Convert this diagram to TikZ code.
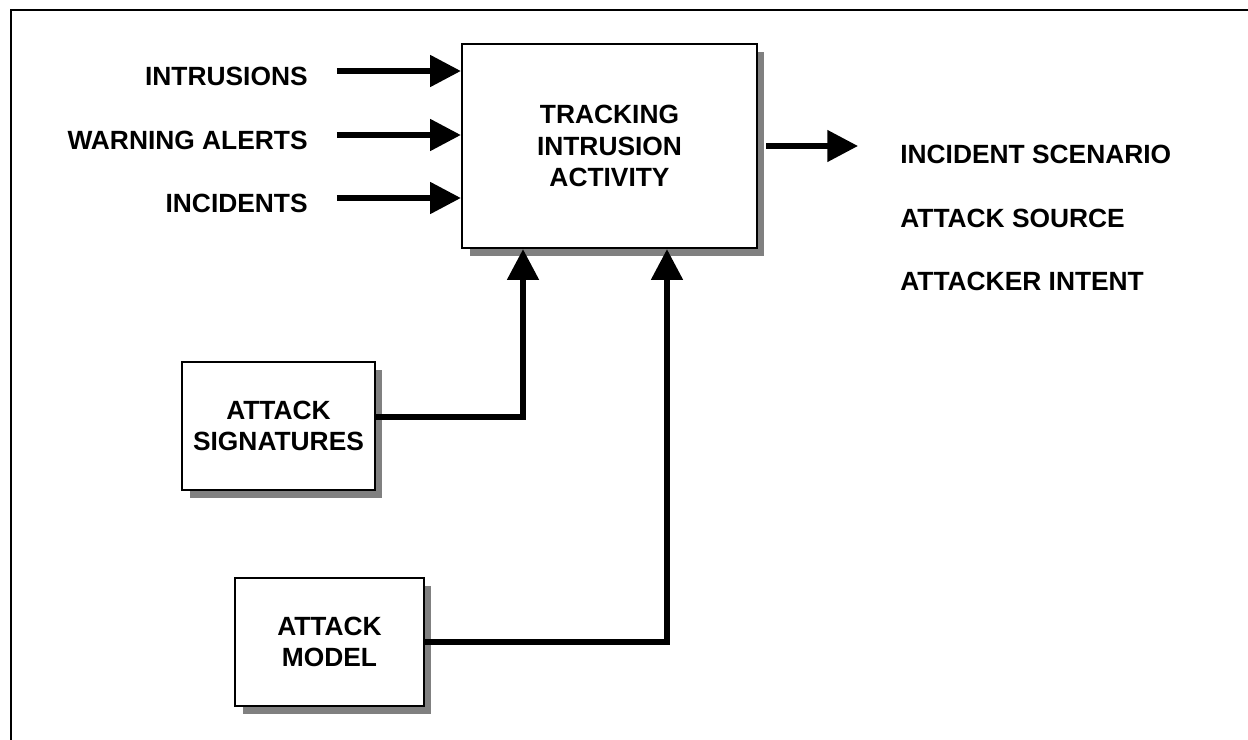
\documentclass[tikz,border=0pt]{standalone}
\usepackage{fontspec}
\setmainfont{Liberation Sans}
\usetikzlibrary{positioning,calc,arrows.meta,shadows}
\tikzset{
	blok/.style={draw,line width=1.3pt,fill=white,align=center,inner sep=0pt,
		drop shadow={shadow xshift=0.15cm,shadow yshift=-0.16cm,fill=black!50,opacity=1}},
	lbl/.style={inner sep=0pt},
	feed/.style={line width=3.2pt,-{Triangle[length=17.5pt,width=17.5pt]}}
}

\begin{document}
\begin{tikzpicture}[x=0.02cm,y=-0.02cm,font=\fontsize{15}{18}\selectfont\bfseries]
		\useasboundingbox (0,0) rectangle (1248,740);
		\draw[line width=1pt] (11,740) -- (11,10) -- (1248,10);
		\node[blok,minimum width=5.9cm,minimum height=4.08cm] (main) at (609.5,146) {TRACKING\\INTRUSION\\ACTIVITY};
		\node[blok,minimum width=3.86cm,minimum height=2.56cm] (sig) at (278.5,426) {ATTACK\\SIGNATURES};
		\node[blok,minimum width=3.78cm,minimum height=2.56cm] (model) at (329.5,642) {ATTACK\\MODEL};
		\node[lbl,anchor=east] (intr) at (308,76) {INTRUSIONS};
		\node[lbl,anchor=east] (warn) at (308,140) {WARNING ALERTS};
		\node[lbl,anchor=east] (inc) at (308,203) {INCIDENTS};
		\node[lbl,anchor=west] (scen) at (900,154) {INCIDENT SCENARIO};
		\node[lbl,anchor=west] (src) at (900,218) {ATTACK SOURCE};
		\node[lbl,anchor=west] (intent) at (900,281) {ATTACKER INTENT};
		\foreach \nm in {intr,warn,inc}
			\draw[feed] ([shift={(0.58cm,0.1cm)}]\nm.east) coordinate (f) -- (f -| main.west);
		\coordinate (gtip) at ([xshift=-0.84cm]scen.west);
		\draw[feed] ([xshift=0.16cm]main.east) coordinate (g) -- (g -| gtip);
		\draw[feed] ([yshift=0.18cm]sig.east) -| ([xshift=-1.73cm]main.south);
		\draw[feed] (model.east) -| ([xshift=1.15cm]main.south);
	\end{tikzpicture}
\end{document}
